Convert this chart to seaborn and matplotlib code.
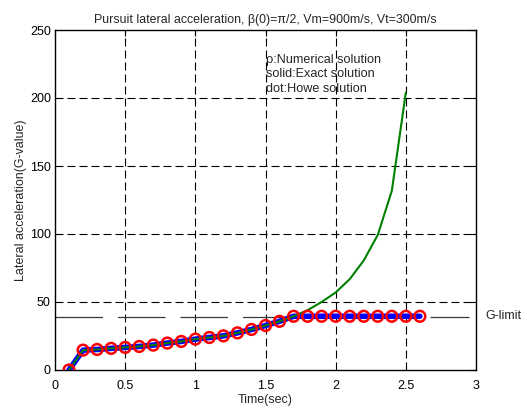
import matplotlib
matplotlib.use("Agg")
import matplotlib.pyplot as plt
import seaborn as sns
import pandas as pd

sns.set_theme(style="white")
plt.rcParams['font.family'] = ['Liberation Sans', 'DejaVu Sans']

# Data
t_num = [0.1, 0.2, 0.3, 0.4, 0.5, 0.6, 0.7, 0.8, 0.9, 1.0, 1.1, 1.2, 1.3,
         1.4, 1.5, 1.6, 1.7, 1.8, 1.9, 2.0, 2.1, 2.2, 2.3, 2.4, 2.5, 2.6]
g_num = [0.0, 14.6, 15.1, 15.9, 16.6, 17.3, 18.3, 19.8, 21.0, 22.7, 23.9, 25.1, 27.3,
         29.8, 32.7, 35.8, 39.5, 39.5, 39.5, 39.5, 39.5, 39.5, 39.5, 39.5, 39.5, 39.5]
t_exact = [0.1, 0.2, 0.3, 0.4, 0.5, 0.6, 0.7, 0.8, 0.9, 1.0, 1.1, 1.2, 1.3,
           1.4, 1.5, 1.6, 1.7, 1.8, 1.9, 2.0, 2.1, 2.2, 2.3, 2.4, 2.5]
g_exact = [0.0, 14.6, 15.1, 15.9, 16.6, 17.3, 18.3, 19.8, 21.0, 22.7, 23.9, 25.1, 27.3,
           29.8, 32.7, 35.8, 39.5, 44.0, 50.0, 57.0, 66.8, 80.5, 99.3, 131.7, 204.0]
g_limit_t = [0.0, 2.95]
g_limit_v = [39.0, 39.0]
xticks = [0, 0.5, 1, 1.5, 2, 2.5, 3]
xtick_labels = ['0', '0.5', '1', '1.5', '2', '2.5', '3']
yticks = [0, 50, 100, 150, 200, 250]
ytick_labels = ['0', '50', '100', '150', '200', '250']
notes = ['ρ:Numerical solution', 'solid:Exact solution', 'dot:Howe solution']

df_num = pd.DataFrame({'t': t_num, 'g': g_num})
df_ex = pd.DataFrame({'t': t_exact, 'g': g_exact})
df_lim = pd.DataFrame({'t': g_limit_t, 'g': g_limit_v})

fig = plt.figure(figsize=(5.27, 4.12), dpi=100)
ax = fig.add_axes([55/527, 42/412, 421/527, 340/412])

# grid
for x in xticks[1:-1]:
    ax.axvline(x, color='black', lw=0.8, linestyle=(0, (7.2, 3.6)), zorder=1)
for y in yticks[1:-1]:
    ax.axhline(y, color='black', lw=0.8, linestyle=(0, (7.2, 3.6)), zorder=1)

sns.lineplot(data=df_lim, x='t', y='g', ax=ax, color='#3a3a3a', lw=0.9,
             linestyle=(0, (38, 12)), zorder=2)
sns.lineplot(data=df_num, x='t', y='g', ax=ax, color='#0000ff', lw=4, zorder=3)
sns.lineplot(data=df_ex, x='t', y='g', ax=ax, color='#008000', lw=1.5, zorder=4)
sns.scatterplot(data=df_num, x='t', y='g', ax=ax, marker='o', s=60,
                facecolor='none', edgecolor='#ff0000', linewidth=1.8, zorder=5)

ax.set_xlim(0, 3)
ax.set_ylim(0, 250)
ax.set_xticks(xticks)
ax.set_xticklabels(xtick_labels)
ax.set_yticks(yticks)
ax.set_yticklabels(ytick_labels)
ax.tick_params(direction='in', length=4, width=0.8, top=True, right=True,
               labelsize=9, colors='black', pad=3)
ax.tick_params(axis='x', pad=7)
for s in ax.spines.values():
    s.set_color('black')
    s.set_linewidth(1.0)

ax.set_xlabel('Time(sec)', fontsize=9, labelpad=2)
ax.set_ylabel('Lateral acceleration(G-value)', fontsize=9, labelpad=2)
ax.set_title('Pursuit lateral acceleration, β(0)=π/2, Vm=900m/s, Vt=300m/s',
             fontsize=8.9, pad=5)

for v, txt in zip([228.0, 217.3, 206.6], notes):
    ax.text(1.5, v, txt, fontsize=9.1, va='center', ha='left', zorder=6)

ax.text(3.07, 39.5, 'G-limit', fontsize=9, va='center', ha='left', clip_on=False)

fig.savefig('out.png', dpi=100)
